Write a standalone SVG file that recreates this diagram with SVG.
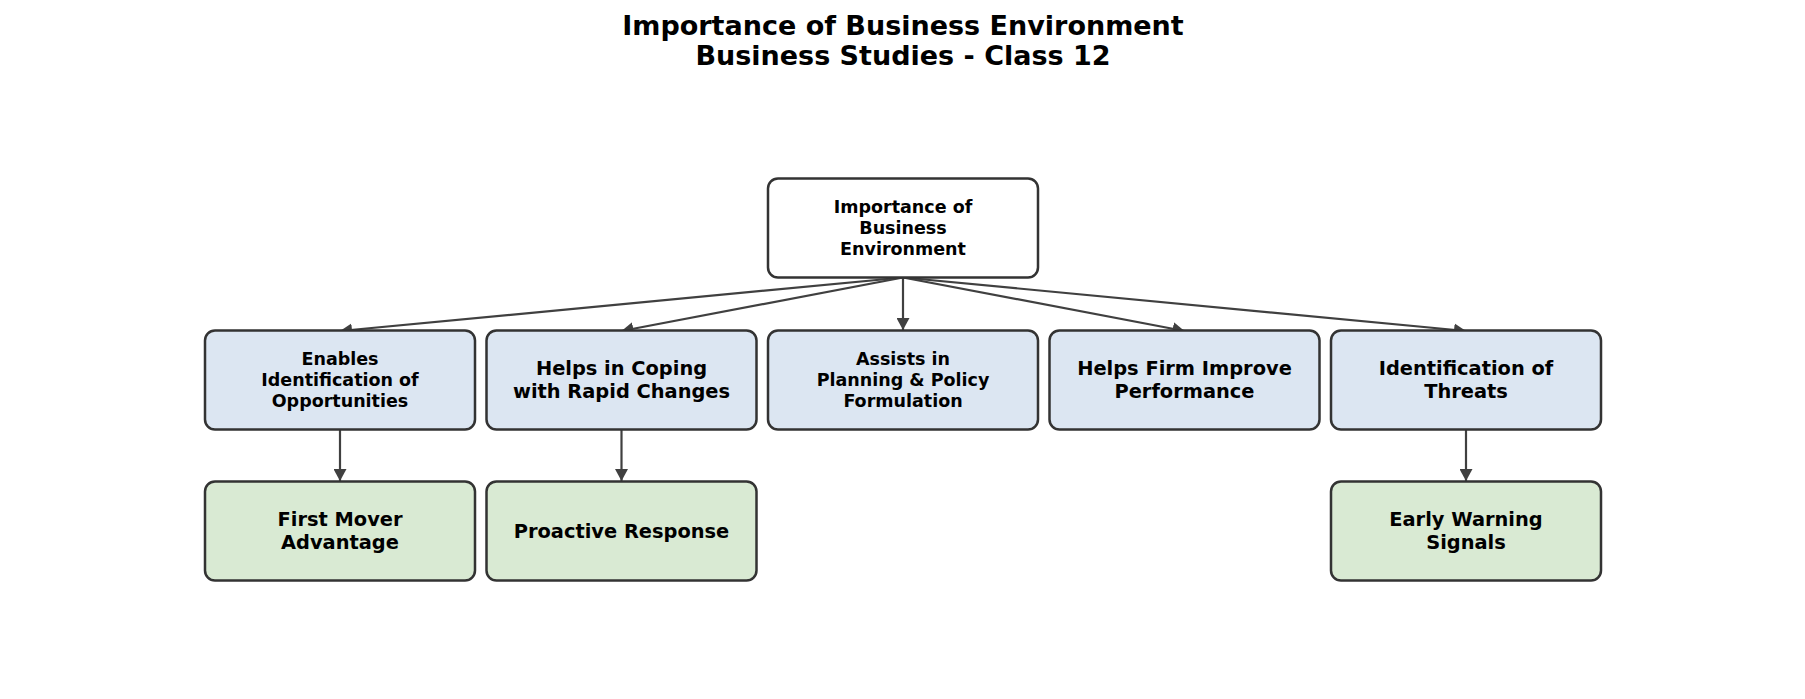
<svg xmlns="http://www.w3.org/2000/svg" width="1805" height="699" viewBox="0 0 1805 699">
<defs>
<style>
.box{stroke:#333333;stroke-width:2.5}
.root{fill:#ffffff}
.mid{fill:#dce6f2}
.leaf{fill:#d9ead3}
.t{font-family:"DejaVu Sans",Verdana,sans-serif;font-weight:bold;fill:#000;text-anchor:middle}
.s{font-size:17.5px}
.m{font-size:19.4px}
.title{font-size:27px}
.c{stroke:#404040;stroke-width:2.2;fill:none;marker-end:url(#ah)}
</style>
<marker id="ah" viewBox="0 0 12 13" refX="12" refY="6.5" markerWidth="12" markerHeight="13" markerUnits="userSpaceOnUse" orient="auto">
<path d="M0,0 L12,6.5 L0,13 z" fill="#404040"/>
</marker>
</defs>
<rect width="1805" height="699" fill="#ffffff"/>
<g id="title">
<text class="t title" x="903" y="35">Importance of Business Environment</text>
<text class="t title" x="903" y="65">Business Studies - Class 12</text>
</g>
<g id="connectors">
<line class="c" x1="903" y1="277.5" x2="340" y2="331"/>
<line class="c" x1="903" y1="277.5" x2="621.5" y2="331"/>
<line class="c" x1="903" y1="277.5" x2="903" y2="330"/>
<line class="c" x1="903" y1="277.5" x2="1184.5" y2="331"/>
<line class="c" x1="903" y1="277.5" x2="1466" y2="331"/>
<line class="c" x1="340" y1="429.5" x2="340" y2="481"/>
<line class="c" x1="621.5" y1="429.5" x2="621.5" y2="481"/>
<line class="c" x1="1466" y1="429.5" x2="1466" y2="481"/>
</g>
<g id="root">
<rect class="box root" x="768" y="178.5" width="270" height="99" rx="10"/>
<text class="t s" x="903" y="213.3">Importance of</text>
<text class="t s" x="903" y="234.3">Business</text>
<text class="t s" x="903" y="255.3">Environment</text>
</g>
<g id="opportunities">
<rect class="box mid" x="205" y="330.5" width="270" height="99" rx="10"/>
<text class="t s" x="340" y="365.3">Enables</text>
<text class="t s" x="340" y="386.3">Identification of</text>
<text class="t s" x="340" y="407.3">Opportunities</text>
</g>
<g id="coping">
<rect class="box mid" x="486.5" y="330.5" width="270" height="99" rx="10"/>
<text class="t m" x="621.5" y="375">Helps in Coping</text>
<text class="t m" x="621.5" y="398">with Rapid Changes</text>
</g>
<g id="planning">
<rect class="box mid" x="768" y="330.5" width="270" height="99" rx="10"/>
<text class="t s" x="903" y="365.3">Assists in</text>
<text class="t s" x="903" y="386.3">Planning &amp; Policy</text>
<text class="t s" x="903" y="407.3">Formulation</text>
</g>
<g id="performance">
<rect class="box mid" x="1049.5" y="330.5" width="270" height="99" rx="10"/>
<text class="t m" x="1184.5" y="375">Helps Firm Improve</text>
<text class="t m" x="1184.5" y="398">Performance</text>
</g>
<g id="threats">
<rect class="box mid" x="1331" y="330.5" width="270" height="99" rx="10"/>
<text class="t m" x="1466" y="375">Identification of</text>
<text class="t m" x="1466" y="398">Threats</text>
</g>
<g id="firstmover">
<rect class="box leaf" x="205" y="481.5" width="270" height="99" rx="10"/>
<text class="t m" x="340" y="526">First Mover</text>
<text class="t m" x="340" y="549">Advantage</text>
</g>
<g id="proactive">
<rect class="box leaf" x="486.5" y="481.5" width="270" height="99" rx="10"/>
<text class="t m" x="621.5" y="538">Proactive Response</text>
</g>
<g id="earlywarning">
<rect class="box leaf" x="1331" y="481.5" width="270" height="99" rx="10"/>
<text class="t m" x="1466" y="526">Early Warning</text>
<text class="t m" x="1466" y="549">Signals</text>
</g>
</svg>
